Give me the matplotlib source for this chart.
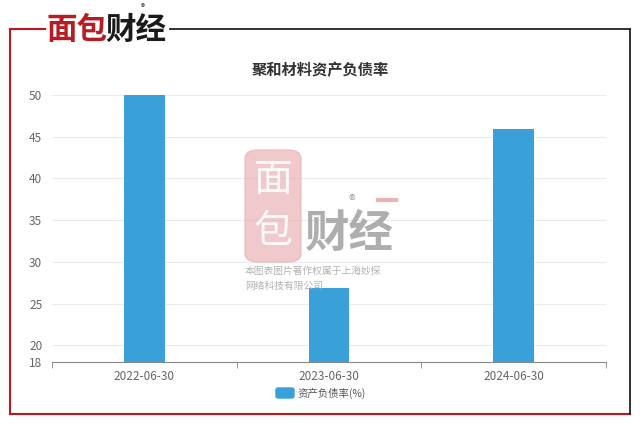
import matplotlib
matplotlib.use('Agg')
import matplotlib.pyplot as plt
from matplotlib.patches import FancyBboxPatch
from matplotlib.lines import Line2D

plt.rcParams['font.family'] = ['Noto Sans CJK SC', 'DejaVu Sans']

# debt ratio data
dates = ['2022-06-30', '2023-06-30', '2024-06-30']
debt_ratio = [50.0, 26.9, 45.92]
yticks = [18, 20, 25, 30, 35, 40, 45, 50]
title = '聚和材料资产负债率'
legend_label = '资产负债率(%)'

fig = plt.figure(figsize=(6.4, 4.24), dpi=100)
ax = fig.add_axes([52/640, 1-362/424, 554/640, 267/424])

x = list(range(len(dates)))
ax.bar(x, debt_ratio, width=0.22, color='#3aa0da', zorder=3)
ax.set_xlim(-0.5, 2.5)
ax.set_ylim(18, 50)
ax.set_yticks(yticks)
ax.set_xticks(x)
ax.set_xticklabels(dates)
ax.set_xticks([-0.5, 0.5, 1.5, 2.5], minor=True)
ax.tick_params(axis='x', which='major', length=0, colors='#666666', labelsize=8.5, pad=6)
ax.tick_params(axis='x', which='minor', length=4, color='#888888', direction='out')
ax.tick_params(axis='y', length=0, colors='#666666', labelsize=8.5, pad=7)
for v in yticks[1:]:
    ax.axhline(v, color='#e8ebf0', lw=0.8, zorder=1)
for s in ['top', 'right', 'left']:
    ax.spines[s].set_visible(False)
ax.spines['bottom'].set_color('#888888')

fig.text(0.5, 1-70/424, title, ha='center', va='center', fontsize=11,
         fontweight='bold', color='#333333')

# legend
fig.patches.append(FancyBboxPatch((276/640, 1-398/424), 18/640, 10/424,
                                  boxstyle='round,pad=0,rounding_size=0.004',
                                  transform=fig.transFigure, color='#3aa0da'))
fig.text(298/640, 1-393/424, legend_label, ha='left', va='center', fontsize=7.5, color='#555555')

# outer frame
red = '#c0161c'
fig.lines.append(Line2D([10/640, 10/640], [1-29/424, 1-414/424], color=red, lw=1.5, transform=fig.transFigure))
fig.lines.append(Line2D([10/640, 630/640], [1-414/424, 1-414/424], color=red, lw=1.5, transform=fig.transFigure))
fig.lines.append(Line2D([10/640, 45/640], [1-29/424, 1-29/424], color=red, lw=1.5, transform=fig.transFigure))
fig.lines.append(Line2D([170/640, 630/640], [1-29/424, 1-29/424], color='#222222', lw=1.3, transform=fig.transFigure))
fig.lines.append(Line2D([630/640, 630/640], [1-29/424, 1-414/424], color='#222222', lw=1.3, transform=fig.transFigure))

# header logo
fig.text(47/640, 1-30/424, '面包', ha='left', va='center', fontsize=22, fontweight='heavy', color='#b71c22')
fig.text(105/640, 1-30/424, '财经', ha='left', va='center', fontsize=22, fontweight='heavy', color='#1a1a1a')
fig.text(143/640, 1-8/424, '®', ha='center', va='center', fontsize=6, color='#333333')

# watermark
fig.patches.append(FancyBboxPatch((245/640, 1-262/424), 56/640, 112/424,
                                  boxstyle='round,pad=0,rounding_size=0.02',
                                  transform=fig.transFigure, color='#e9b3b5', alpha=0.7, zorder=5))
fig.text(273/640, 1-180/424, '面', ha='center', va='center', fontsize=28, color='white', alpha=0.9, zorder=6)
fig.text(273/640, 1-232/424, '包', ha='center', va='center', fontsize=28, color='white', alpha=0.9, zorder=6)
fig.text(349/640, 1-234/424, '财经', ha='center', va='center', fontsize=32, fontweight='bold',
         color='#9a9a9a', alpha=0.8, zorder=6)
fig.lines.append(Line2D([378/640, 396/640], [1-200/424, 1-200/424], color='#e9b3b5', lw=3,
                        transform=fig.transFigure, zorder=6))
fig.text(352/640, 1-202/424, '®', ha='center', va='center', fontsize=10, color='#aaaaaa', zorder=6)
fig.text(245/640, 1-271/424, '本图表图片著作权属于上海妙探', ha='left', va='center', fontsize=7,
         color='#aaaaaa', alpha=0.9, zorder=6)
fig.text(245/640, 1-286/424, '网络科技有限公司', ha='left', va='center', fontsize=7,
         color='#aaaaaa', alpha=0.9, zorder=6)

fig.savefig('out.png', dpi=100)
